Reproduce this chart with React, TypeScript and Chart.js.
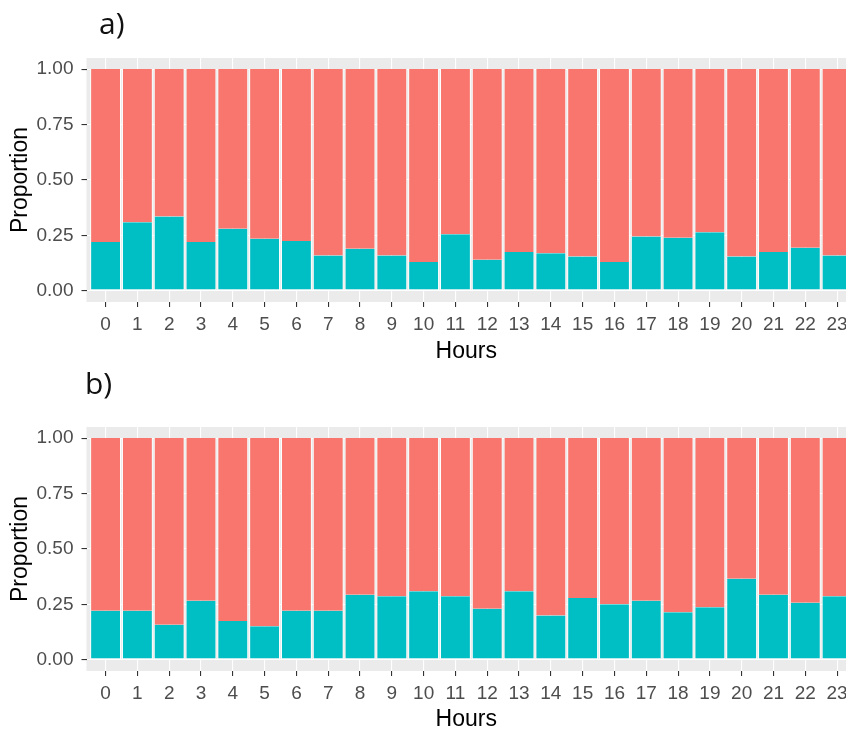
import React, { useEffect, useRef } from 'react';
import { Chart, registerables } from 'chart.js';

Chart.register(...registerables);

// ---- data ----
const hours = [0, 1, 2, 3, 4, 5, 6, 7, 8, 9, 10, 11, 12, 13, 14, 15, 16, 17, 18, 19, 20, 21, 22, 23];
const yTickValues = [0, 0.25, 0.5, 0.75, 1];

// panel a)
const tealA = [0.22, 0.31, 0.335, 0.22, 0.28, 0.235, 0.225, 0.16, 0.19, 0.16, 0.13, 0.255, 0.14, 0.175, 0.17, 0.155, 0.13, 0.245, 0.24, 0.265, 0.155, 0.175, 0.195, 0.16];
const redA = [0.78, 0.69, 0.665, 0.78, 0.72, 0.765, 0.775, 0.84, 0.81, 0.84, 0.87, 0.745, 0.86, 0.825, 0.83, 0.845, 0.87, 0.755, 0.76, 0.735, 0.845, 0.825, 0.805, 0.84];

// panel b)
const tealB = [0.222, 0.222, 0.158, 0.267, 0.175, 0.152, 0.222, 0.222, 0.294, 0.287, 0.309, 0.287, 0.231, 0.31, 0.2, 0.279, 0.251, 0.267, 0.215, 0.237, 0.366, 0.294, 0.258, 0.287];
const redB = [0.778, 0.778, 0.842, 0.733, 0.825, 0.848, 0.778, 0.778, 0.706, 0.713, 0.691, 0.713, 0.769, 0.69, 0.8, 0.721, 0.749, 0.733, 0.785, 0.763, 0.634, 0.706, 0.742, 0.713];

const TEAL = '#00BFC4';
const RED = '#F8766D';
const PANEL_BG = '#EBEBEB';
const FONT = "'Liberation Sans', Arial, sans-serif";

interface PanelProps {
  label: string;
  teal: number[];
  red: number[];
  height: number;
  xAxisHeight: number;
  titleX: number;
  titleY: number;
  hoursPadBottom: number;
}

function Panel({ label, teal, red, height, xAxisHeight, titleX, titleY, hoursPadBottom }: PanelProps) {
  const ref = useRef<HTMLCanvasElement | null>(null);

  useEffect(() => {
    if (!ref.current) return;

    const panelBg = {
      id: 'panelBg',
      beforeDraw(chart: any) {
        const { ctx, chartArea } = chart;
        ctx.save();
        ctx.fillStyle = PANEL_BG;
        ctx.fillRect(chartArea.left, chartArea.top, chartArea.right - chartArea.left, chartArea.bottom - chartArea.top);
        ctx.restore();
      },
      afterDraw(chart: any) {
        const { ctx } = chart;
        ctx.save();
        ctx.fillStyle = '#111111';
        ctx.font = "30px 'Open Sans', sans-serif";
        ctx.textBaseline = 'alphabetic';
        ctx.textAlign = 'left';
        ctx.fillText(label, titleX, titleY);
        ctx.restore();
      },
    };

    const chart = new Chart(ref.current, {
      type: 'bar',
      data: {
        datasets: [
          {
            label: 'teal',
            data: hours.map((h, i) => ({ x: h, y: teal[i] })),
            backgroundColor: TEAL,
            borderColor: '#FFFFFF',
            borderWidth: { left: 1, right: 1, top: 0, bottom: 1 },
            borderSkipped: false,
            categoryPercentage: 1,
            barPercentage: 0.97,
          },
          {
            label: 'red',
            data: hours.map((h, i) => ({ x: h, y: red[i] })),
            backgroundColor: RED,
            borderColor: '#FFFFFF',
            borderWidth: { left: 1, right: 1, top: 0, bottom: 0 },
            borderSkipped: false,
            categoryPercentage: 1,
            barPercentage: 0.97,
          },
        ],
      } as any,
      options: {
        animation: false,
        responsive: true,
        maintainAspectRatio: false,
        layout: { padding: { top: 58, left: 0, right: 0, bottom: 0 } },
        plugins: { legend: { display: false }, tooltip: { enabled: false } },
        scales: {
          x: {
            type: 'linear',
            stacked: true,
            min: -0.6,
            max: 23.28,
            offset: false,
            afterBuildTicks: (s: any) => {
              s.ticks = hours.map((v) => ({ value: v }));
            },
            ticks: {
              color: '#4D4D4D',
              font: { family: FONT, size: 19 },
              padding: 6,
              maxRotation: 0,
              autoSkip: false,
              callback: (v: any) => String(v),
            },
            grid: { offset: false, color: '#FFFFFF', lineWidth: 1.1, tickColor: '#333333', tickLength: 5 },
            border: { display: false },
            title: {
              display: true,
              text: 'Hours',
              color: '#000000',
              font: { family: FONT, size: 23, lineHeight: 1 },
              padding: { top: 0, bottom: hoursPadBottom },
            },
            afterFit: (s: any) => {
              s.height = xAxisHeight;
              s.paddingLeft = 0;
              s.paddingRight = 0;
            },
          },
          y: {
            stacked: true,
            min: -0.05,
            max: 1.05,
            afterBuildTicks: (s: any) => {
              s.ticks = yTickValues.map((v) => ({ value: v }));
            },
            ticks: {
              color: '#4D4D4D',
              font: { family: FONT, size: 19 },
              padding: 8,
              callback: (v: any) => Number(v).toFixed(2),
            },
            grid: { color: '#FFFFFF', lineWidth: 1.1, tickColor: '#333333', tickLength: 5 },
            border: { display: false },
            title: {
              display: true,
              text: 'Proportion',
              color: '#000000',
              font: { family: FONT, size: 23, lineHeight: 1 },
              padding: { top: 9, bottom: 0 },
            },
            afterFit: (s: any) => {
              s.width = 86.5;
              s.paddingTop = 0;
              s.paddingBottom = 0;
            },
          },
        },
      } as any,
      plugins: [panelBg],
    });

    return () => chart.destroy();
  }, [label, teal, red, height, xAxisHeight, titleX, titleY, hoursPadBottom]);

  return (
    <div style={{ position: 'relative', width: 846, height }}>
      <canvas ref={ref} />
    </div>
  );
}

export default function App() {
  return (
    <div style={{ position: 'absolute', left: 0, top: 0, width: 846, height: 731, overflow: 'hidden', background: '#FFFFFF' }}>
      <div style={{ position: 'absolute', left: 0, top: 0 }}>
        <Panel label="a)" teal={tealA} red={redA} height={369} xAxisHeight={67} titleX={99} titleY={34} hoursPadBottom={6} />
      </div>
      <div style={{ position: 'absolute', left: 0, top: 369 }}>
        <Panel label="b)" teal={tealB} red={redB} height={362} xAxisHeight={60} titleX={85} titleY={25} hoursPadBottom={0} />
      </div>
    </div>
  );
}
